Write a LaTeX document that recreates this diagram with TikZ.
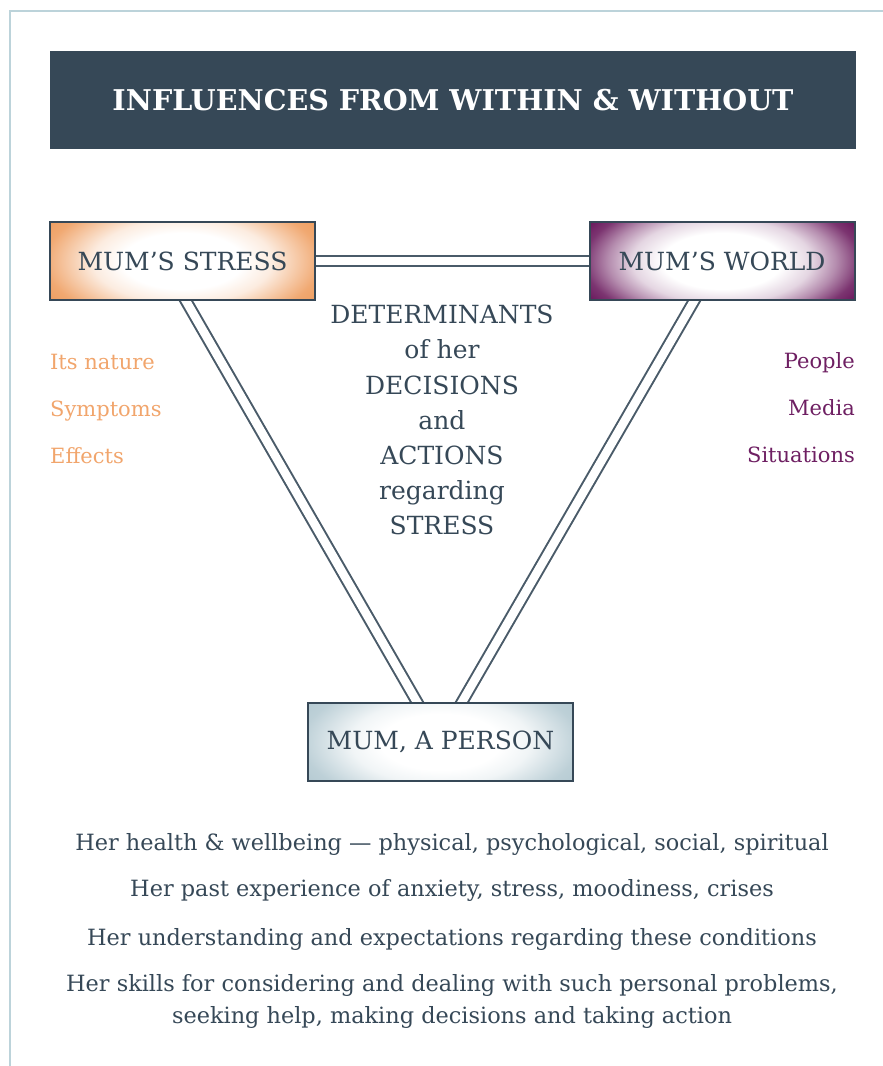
\documentclass[tikz,border=0pt]{standalone}
\usepackage{fontspec}
\setmainfont{DejaVu Serif}
\usetikzlibrary{calc,backgrounds}

\definecolor{ink}{HTML}{364857}
\definecolor{framec}{HTML}{BCD3DA}
\definecolor{linkc}{HTML}{4A5B69}
\definecolor{stressc}{HTML}{EF9F62}
\definecolor{worldc}{HTML}{6A195D}
\definecolor{personc}{HTML}{B6CBD3}
\definecolor{stresstxt}{HTML}{F1A56C}
\definecolor{worldtxt}{HTML}{6E1F62}

% soft glow: white centre, colour pushed out to the edges
% (the rectangle's inner ellipse sits at 25bp of the shading)
\pgfdeclareradialshading{glowstress}{\pgfpointorigin}{color(0bp)=(white); color(10bp)=(white); color(15bp)=(stressc!20); color(19bp)=(stressc!55); color(23bp)=(stressc!90); color(26bp)=(stressc); color(50bp)=(stressc)}
\pgfdeclareradialshading{glowworld}{\pgfpointorigin}{color(0bp)=(white); color(10bp)=(white); color(15bp)=(worldc!18); color(19bp)=(worldc!50); color(23bp)=(worldc!88); color(26bp)=(worldc); color(50bp)=(worldc)}
\pgfdeclareradialshading{glowperson}{\pgfpointorigin}{color(0bp)=(white); color(10bp)=(white); color(15bp)=(personc!20); color(19bp)=(personc!55); color(23bp)=(personc!90); color(26bp)=(personc); color(50bp)=(personc)}

\tikzset{
  box/.style={draw=ink, line width=2pt, minimum width=265pt, minimum height=78pt,
    inner sep=0pt, text=ink, font=\fontsize{25}{30}\selectfont},
  glow/.style={path picture={\shade[shading=#1]
      ($(path picture bounding box.center)+(-150pt,-70pt)$) rectangle
      ($(path picture bounding box.center)+(150pt,70pt)$);}},
  link/.style={draw=linkc, line width=2pt, double=white, double distance=8.5pt},
  listitem/.style={inner sep=0pt, font=\fontsize{21}{25}\selectfont},
  bodyline/.style={inner sep=0pt, text=ink, font=\fontsize{22.4}{32}\selectfont, align=center},
}

\begin{document}
\begin{tikzpicture}[x=1pt, y=-1pt]
\useasboundingbox (0,0) rectangle (883,1066);

% page frame
\draw[framec, line width=2pt] (10,1066) -- (10,11) -- (883,11);

% title bar
\node[fill=ink, minimum width=806pt, minimum height=98pt, inner sep=0pt, text=white,
      font=\bfseries\fontsize{28.6}{32}\selectfont] (title) at (453,100)
      {INFLUENCES FROM WITHIN \& WITHOUT};

% the three boxes
\node[box, glow=glowstress] (stress) at (182.5,261) {MUM’S STRESS};
\node[box, glow=glowworld]  (world)  at (722,261)   {MUM’S WORLD};
\node[box, glow=glowperson] (person) at (440.5,742) {MUM, A PERSON};

% double connectors behind the boxes
\begin{scope}[on background layer]
  \coordinate (sA) at ($(stress.south)+(3.5,0)$);
  \coordinate (pA) at ($(person.north)+(-23.5,0)$);
  \coordinate (wB) at ($(world.south)+(-28,0)$);
  \coordinate (pB) at ($(person.north)+(21.5,0)$);
  \draw[link] (stress.east) -- (world.west);
  \draw[link] ($(sA)!-6pt!(pA)$) -- ($(pA)!-6pt!(sA)$);
  \draw[link] ($(wB)!-6pt!(pB)$) -- ($(pB)!-6pt!(wB)$);
\end{scope}

% centre text
\node[inner sep=0pt, anchor=north, align=center, text=ink,
      font=\fontsize{25}{35.2}\selectfont] (det) at (442,305)
  {DETERMINANTS\\of her\\DECISIONS\\and\\ACTIONS\\regarding\\STRESS};

% stress aspects
\node[listitem, text=stresstxt, anchor=base west] (s1) at (50,369) {Its nature};
\node[listitem, text=stresstxt, anchor=base west] (s2) at (50,416) {Symptoms};
\node[listitem, text=stresstxt, anchor=base west] (s3) at (50,463) {Effects};

% world aspects
\node[listitem, text=worldtxt, anchor=base east] (w1) at (855,368) {People};
\node[listitem, text=worldtxt, anchor=base east] (w2) at (855,415) {Media};
\node[listitem, text=worldtxt, anchor=base east] (w3) at (855,462) {Situations};

% personal factors
\node[bodyline, anchor=base] (b1) at (452,850) {Her health \& wellbeing — physical, psychological, social, spiritual};
\node[bodyline, anchor=base] (b2) at (452,896) {Her past experience of anxiety, stress, moodiness, crises};
\node[bodyline, anchor=base] (b3) at (452,945) {Her understanding and expectations regarding these conditions};
\node[bodyline, anchor=north] (b4) at (452,974) {Her skills for considering and dealing with such personal problems,\\seeking help, making decisions and taking action};
\end{tikzpicture}
\end{document}
